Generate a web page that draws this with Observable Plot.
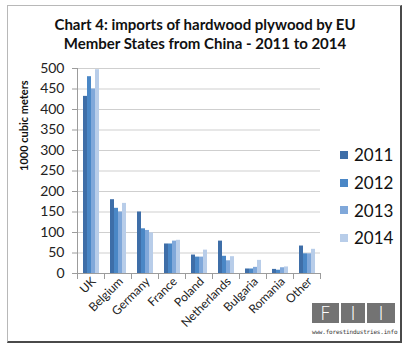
<!DOCTYPE html>
<html><head><meta charset="utf-8">
<script src="https://cdn.jsdelivr.net/npm/d3@7"></script>
<script src="https://cdn.jsdelivr.net/npm/@observablehq/plot@0.6"></script>
<style>
body{margin:0;background:#fff;font-family:Lato,"Open Sans",sans-serif;}
#wrap{position:relative;width:410px;height:352px;overflow:hidden;background:#fff;}
#border{position:absolute;left:7px;top:5px;width:392px;height:335px;border:1px solid #b8b8b8;border-right:2px solid #4a4a4a;border-bottom:2px solid #4a4a4a;}
#title{position:absolute;left:0;width:410px;top:15px;text-align:center;font-weight:bold;font-size:15px;line-height:19px;color:#111;}
#chart{position:absolute;left:0;top:60px;}
#legend{position:absolute;left:340px;top:141px;}
.li{height:27.7px;display:flex;align-items:center;font-size:17px;color:#111;}
.sw{width:8px;height:8px;margin-right:6px;}
#logo{position:absolute;left:312px;top:303px;}
.box{position:absolute;top:0;height:20px;background:#737373;color:#fff;font-size:19px;font-weight:300;line-height:20px;text-align:center;font-family:"DejaVu Sans",sans-serif;}
#url{position:absolute;left:312px;top:328px;font-size:6px;font-family:"DejaVu Sans Mono",monospace;color:#333;letter-spacing:-0.2px;white-space:nowrap;}
</style>
</head><body>
<div id="wrap">
  <div id="border"></div>
  <div id="title">Chart 4: imports of hardwood plywood by EU<br>Member States from China - 2011 to 2014</div>
  <div id="chart"></div>
  <div id="legend"></div>
  <div id="logo">
    <div class="box" style="left:0;width:27px;">F</div>
    <div class="box" style="left:29px;width:24px;">I</div>
    <div class="box" style="left:55px;width:28px;">I</div>
  </div>
  <div id="url">www.forestindustries.info</div>
</div>
<script>
const countries = ["UK","Belgium","Germany","France","Poland","Netherlands","Bulgaria","Romania","Other"];
const years = ["2011","2012","2013","2014"];
const v2011 = [432, 180, 150, 72, 45, 79, 11, 10, 67];
const v2012 = [480, 159, 109, 72, 40, 42, 11, 8, 48];
const v2013 = [450, 150, 105, 79, 40, 31, 15, 14, 48];
const v2014 = [497, 171, 99, 81, 57, 41, 32, 16, 59];
const yTicks = [0,50,100,150,200,250,300,350,400,450,500];
const colors = ["#3e6ea8","#4a87c6","#80a8da","#b8cde9"];
const yLabel = "1000 cubic meters";

const series = [v2011, v2012, v2013, v2014];
const data = countries.flatMap((c, i) => years.map((y, j) => ({country: c, year: y, value: series[j][i]})));

const innerH = 205;
const axisGray = "#9c9c9c";
const chart = Plot.plot({
  width: 330, height: 290,
  marginLeft: 75, marginRight: 9, marginTop: 8, marginBottom: 77,
  style: {fontFamily: "Lato, 'Open Sans', sans-serif", color: "#222", background: "transparent"},
  fx: {domain: countries, padding: 0},
  x: {domain: years, paddingInner: 0, paddingOuter: 0.83, axis: null},
  y: {domain: [0, 500]},
  color: {domain: years, range: colors},
  marks: [
    Plot.gridY({ticks: yTicks.slice(1), stroke: "#cfcfcf", strokeOpacity: 1}),
    Plot.barY(data, {fx: "country", x: "year", y: "value", fill: "year"}),
    Plot.ruleY([0], {stroke: axisGray}),
    Plot.frame({anchor: "left", stroke: axisGray, facetAnchor: "left"}),
    Plot.frame({anchor: "left", stroke: axisGray, insetTop: innerH, insetBottom: -5}),
    Plot.frame({anchor: "right", stroke: axisGray, insetTop: innerH, insetBottom: -5}),
    Plot.axisY({ticks: yTicks, tickSize: 5, tickPadding: 8, fontSize: 14, stroke: axisGray, fill: "#222", label: null}),
    Plot.axisFx({anchor: "bottom", tickRotate: -45, tickSize: 0, tickPadding: 6, dx: 3, fontSize: 12, fill: "#222", label: null}),
    Plot.text([yLabel], {fx: ["UK"], frameAnchor: "left", rotate: -90, dx: -53, fontWeight: "bold", fontSize: 11, fill: "#111"})
  ]
});
document.getElementById("chart").appendChild(chart);

const legend = document.getElementById("legend");
years.forEach((y, j) => {
  const row = document.createElement("div");
  row.className = "li";
  row.innerHTML = `<div class="sw" style="background:${colors[j]}"></div><span>${y}</span>`;
  legend.appendChild(row);
});
</script>
</body></html>
